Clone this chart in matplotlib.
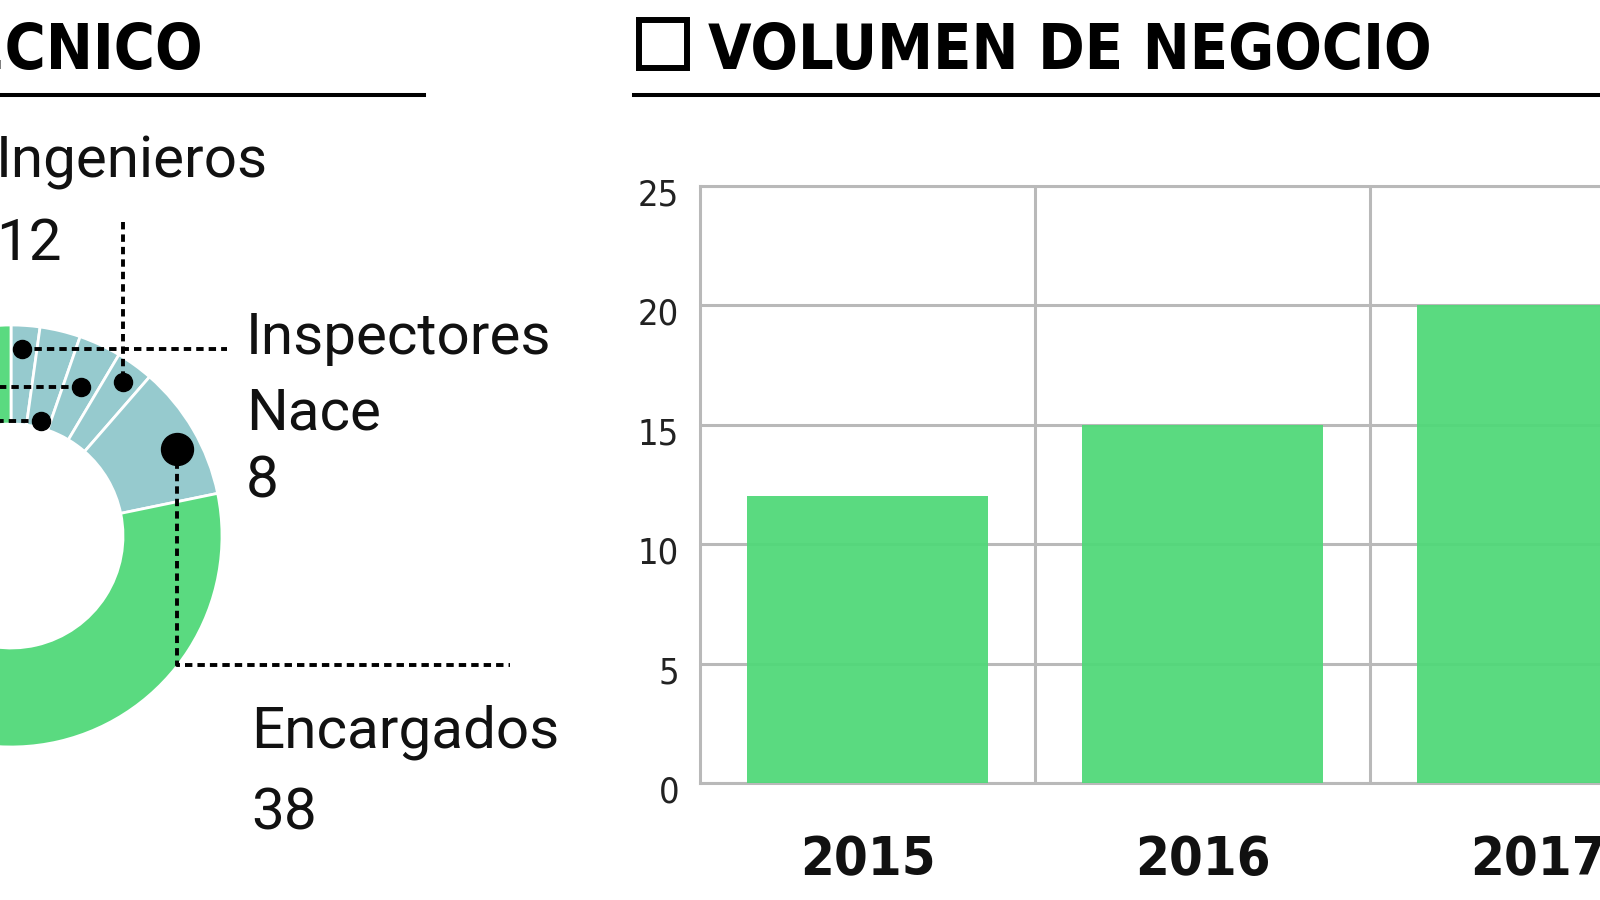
import matplotlib
matplotlib.use('Agg')

import matplotlib.pyplot as plt
from matplotlib import font_manager
from matplotlib.patches import Rectangle
from matplotlib.transforms import ScaledTranslation

# bar chart data: business volume per year
years = ['2015', '2016', '2017']
volumen = [12, 15, 20]
yticks = [0, 5, 10, 15, 20, 25]

# donut data: technical staff (clockwise from the top, teal segments first)
donut_vals = [1.7, 2.4, 2.5, 2.2, 8, 38, 12, 10.4]
donut_cols = ['#96cace'] * 5 + ['#5ada80'] * 3

GREEN = '#51d879'
GRID = '#b9b9b9'
LABEL = ['Roboto', 'DejaVu Sans']

# look for a condensed face for the titles and ticks
cands = [f for f in font_manager.fontManager.ttflist
         if 'condensed' in f.fname.lower() or 'narrow' in f.fname.lower()
         or str(f.stretch).lower() in ('condensed', 'semi-condensed', 'extra-condensed')]
if cands:
    NARROW = dict(family=[cands[0].name, 'DejaVu Sans'], fontstretch=cands[0].stretch)
    SQUEEZE = 1.0
else:
    NARROW = dict(family=['DejaVu Sans'])
    SQUEEZE = 0.8

fig = plt.figure(figsize=(16, 9), dpi=100)
W, H = 1600, 900


def Y(py):
    # pixel row -> overlay data y
    return H - py


# ---- bar chart -------------------------------------------------------
left, right = 700, 1705
top, bottom = 186, 783
ax = fig.add_axes([left / W, (H - bottom) / H, (right - left) / W, (bottom - top) / H])
x = list(range(len(years)))
ax.bar(x, volumen, width=0.72, color=GREEN, alpha=0.95, zorder=3)
ax.set_xlim(-0.5, len(years) - 0.5)
ax.set_ylim(0, 25)
ax.set_yticks(yticks)
ax.set_yticklabels([str(v) for v in yticks], fontsize=26 * SQUEEZE, color='#222222', **NARROW)
ax.set_xticks(x)
ax.set_xticklabels(years, fontsize=39 * SQUEEZE, fontweight='bold', color='#111111', **NARROW)
ax.set_xticks([i + 0.5 for i in x[:-1]], minor=True)
ax.tick_params(axis='both', which='both', length=0)
ax.tick_params(axis='y', pad=15)
ax.tick_params(axis='x', pad=37)
ax.grid(axis='y', color=GRID, lw=2.2, zorder=0)
ax.grid(axis='x', which='minor', color=GRID, lw=2.2, zorder=0)
for side in ['left', 'bottom', 'top']:
    ax.spines[side].set_color(GRID)
    ax.spines[side].set_linewidth(2.2)
ax.spines['right'].set_visible(False)
off = ScaledTranslation(0, -6 / 100, fig.dpi_scale_trans)
for lab in ax.get_yticklabels():
    lab.set_transform(lab.get_transform() + off)

# ---- overlay in pixel coordinates ------------------------------------
ov = fig.add_axes([0, 0, 1, 1])
ov.pie(donut_vals, colors=donut_cols, startangle=90, counterclock=False,
       radius=211, center=(11, Y(536)),
       wedgeprops=dict(width=211 - 112, edgecolor='white', linewidth=2))
ov.set_xlim(0, W)
ov.set_ylim(0, H)
ov.set_aspect('auto')
ov.axis('off')

# leader lines
dots = dict(ls=(0, (1.9, 1.3)), color='black', lw=2.8, solid_capstyle='butt')
ov.plot([22, 227], [Y(349), Y(349)], **dots)
ov.plot([123, 123], [Y(222), Y(382)], **dots)
ov.plot([81, 0], [Y(387), Y(387)], **dots)
ov.plot([41, 0], [Y(421), Y(421)], **dots)
ov.plot([177, 177, 510], [Y(449), Y(665), Y(665)], **dots)
ov.plot([22, 81, 41, 123], [Y(349), Y(387), Y(421), Y(382)], 'o', color='black', ms=13)
ov.plot([177], [Y(449)], 'o', color='black', ms=23)

# labels
lab_kw = dict(family=LABEL, fontsize=42, color='#111111', va='baseline')
ov.text(-4, Y(178), 'Ingenieros', **lab_kw)
ov.text(-4, Y(260), '12', **lab_kw)
ov.text(246, Y(354), 'Inspectores', **lab_kw)
ov.text(246, Y(429), 'Nace', **lab_kw)
ov.text(246, Y(498), '8', **lab_kw)
ov.text(251, Y(748), 'Encargados', **lab_kw)
ov.text(251, Y(830), '38', **lab_kw)

# section titles
title_kw = dict(fontsize=45 * SQUEEZE, fontweight='bold', color='black', va='baseline', **NARROW)
ov.text(203, Y(69), 'TECNICO', ha='right', **title_kw)
ov.text(708, Y(69), 'VOLUMEN DE NEGOCIO', ha='left', **title_kw)
ov.add_patch(Rectangle((639, Y(68)), 48, 48, fill=False, edgecolor='black', lw=4.3))
ov.plot([0, 424], [Y(95), Y(95)], color='black', lw=2.9)
ov.plot([634, W], [Y(95), Y(95)], color='black', lw=2.9)

fig.savefig('out.png', dpi=100)
